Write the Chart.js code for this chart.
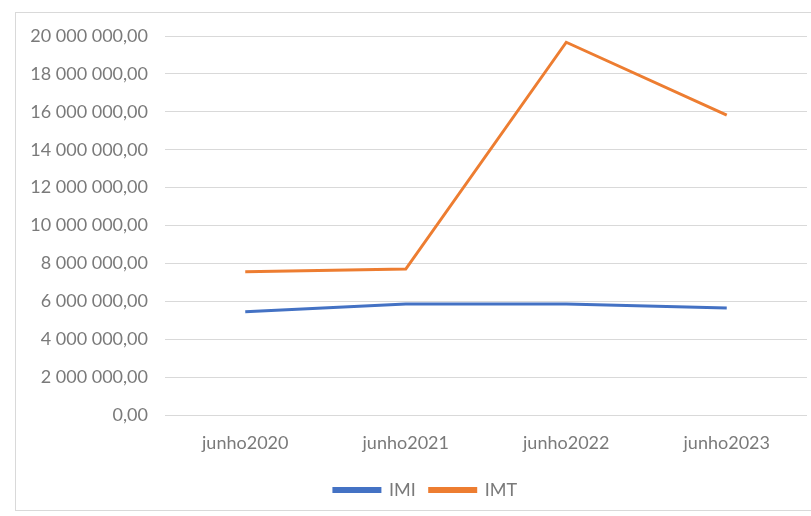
<!DOCTYPE html>
<html>
<head>
<meta charset="utf-8">
<script src="https://cdn.jsdelivr.net/npm/chart.js@4/dist/chart.umd.min.js"></script>
<style>
  html, body { margin: 0; padding: 0; background: #fff; overflow: hidden; }
</style>
</head>
<body>
<canvas id="impostosChart" width="836" height="516"></canvas>
<script>
// Dados: receita de IMI e IMT em junho de cada ano
var periodos = ["junho2020", "junho2021", "junho2022", "junho2023"];
var valoresIMI = [5450000, 5860000, 5860000, 5650000];
var valoresIMT = [7560000, 7700000, 19670000, 15830000];
var eixoMin = 0;
var eixoMax = 20000000;
var eixoPasso = 2000000;

// 20000000 -> "20 000 000,00"
function formatarValor(v) {
    var partes = Number(v).toFixed(2).split(".");
    var inteiro = partes[0].replace(/\B(?=(\d{3})+(?!\d))/g, " ");
    return inteiro + "," + partes[1];
}

// moldura cinzenta à volta do gráfico
var moldura = {
    id: "moldura",
    beforeDraw: function (chart) {
        var ctx = chart.ctx;
        ctx.save();
        ctx.fillStyle = "#ffffff";
        ctx.fillRect(0, 0, chart.width, chart.height);
        ctx.strokeStyle = "#d9d9d9";
        ctx.lineWidth = 1;
        ctx.strokeRect(15.5, 12.5, 900, 498);
        ctx.restore();
    }
};

var corTexto = "#7a7a7a";
var fonte = { family: "Lato", size: 18 };

var ctx = document.getElementById("impostosChart").getContext("2d");
var impostosChart = new Chart(ctx, {
    type: "line",
    data: {
        labels: periodos,
        datasets: [{
            label: "IMI",
            data: valoresIMI,
            borderColor: "#4472c4",
            backgroundColor: "#4472c4",
            borderWidth: 3,
            pointRadius: 0,
            tension: 0,
            fill: false
        }, {
            label: "IMT",
            data: valoresIMT,
            borderColor: "#ed7d31",
            backgroundColor: "#ed7d31",
            borderWidth: 3,
            pointRadius: 0,
            tension: 0,
            fill: false
        }]
    },
    options: {
        responsive: false,
        animation: false,
        layout: {
            padding: { left: 15, right: 0, top: 36, bottom: 7 }
        },
        plugins: {
            tooltip: { enabled: false },
            legend: {
                position: "bottom",
                labels: {
                    color: corTexto,
                    font: fonte,
                    boxWidth: 46,
                    boxHeight: 3,
                    padding: 14
                }
            }
        },
        scales: {
            x: {
                offset: true,
                grid: { display: false },
                border: { display: false },
                ticks: { color: corTexto, font: fonte, padding: 9, maxRotation: 0 },
                afterFit: function (scale) { scale.height = 52; }
            },
            y: {
                min: eixoMin,
                max: eixoMax,
                grid: { color: "#d9d9d9", drawTicks: false },
                border: { display: false },
                ticks: {
                    stepSize: eixoPasso,
                    color: corTexto,
                    font: fonte,
                    padding: 17,
                    callback: function (v) { return formatarValor(v); }
                },
                afterFit: function (scale) { scale.width = 150; }
            },
            // margem à direita da área do gráfico
            margemDireita: {
                position: "right",
                grid: { display: false },
                border: { display: false },
                ticks: { display: false },
                afterFit: function (scale) { scale.width = 29; }
            }
        }
    },
    plugins: [moldura]
});
</script>
</body>
</html>
